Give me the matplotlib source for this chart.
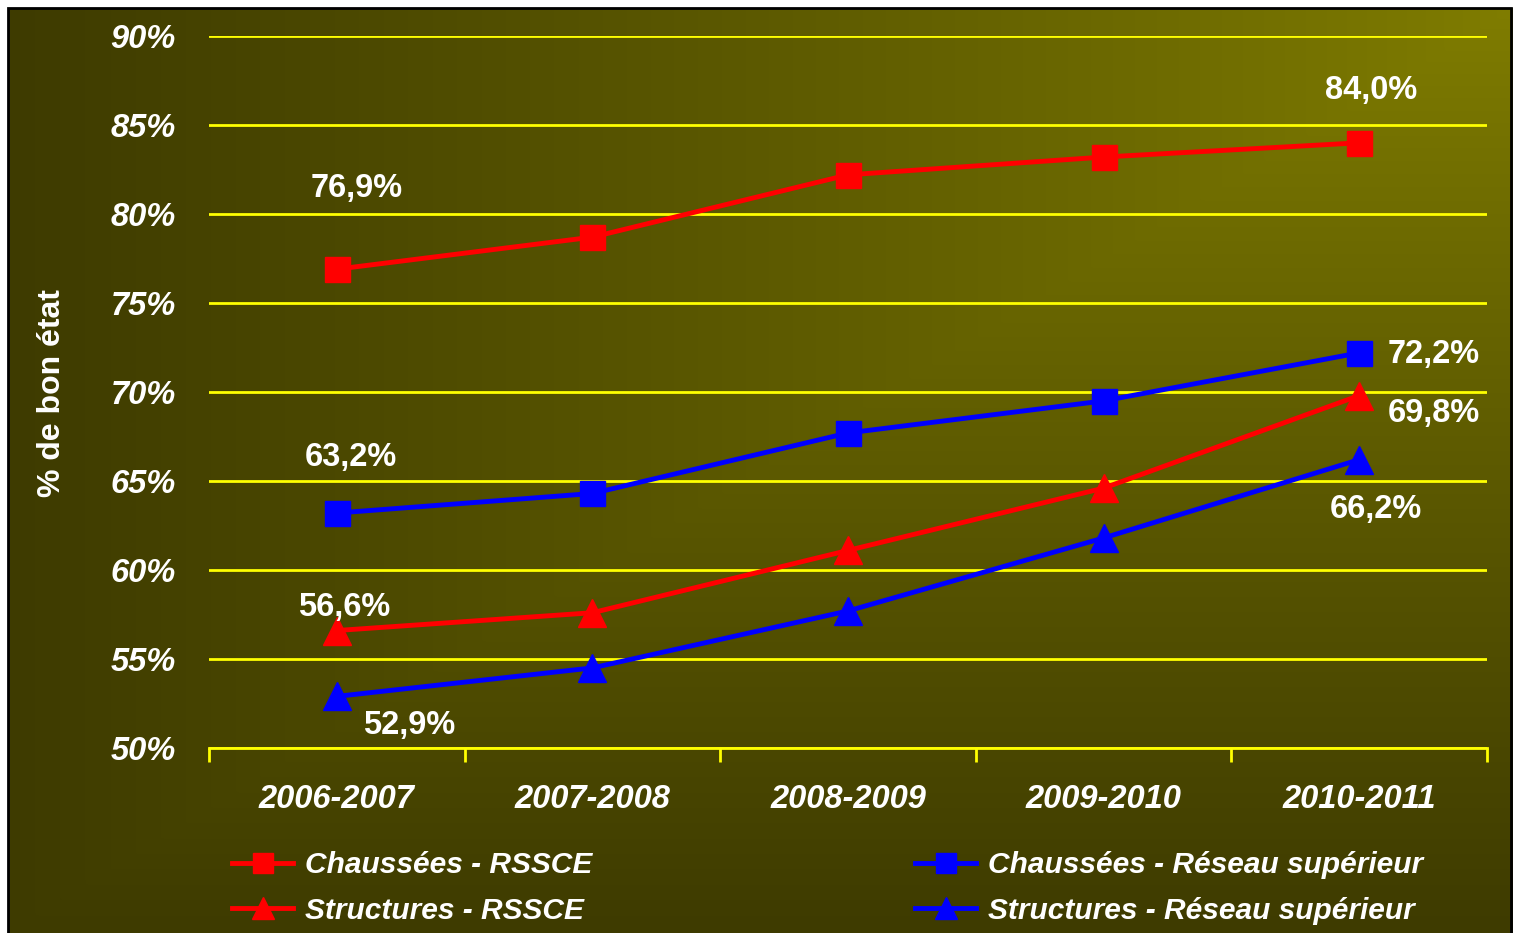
import numpy as np
import matplotlib
matplotlib.use("Agg")
import matplotlib.pyplot as plt
import matplotlib.patches as patches
from matplotlib.lines import Line2D

# ---------------- Data ----------------
saisons = ["2006-2007", "2007-2008", "2008-2009", "2009-2010", "2010-2011"]
chaussees_rssce = [76.9, 78.7, 82.2, 83.2, 84.0]
structures_rssce = [56.6, 57.6, 61.1, 64.6, 69.8]
chaussees_sup = [63.2, 64.3, 67.7, 69.5, 72.2]
structures_sup = [52.9, 54.5, 57.7, 61.8, 66.2]
y_ticks = [50, 55, 60, 65, 70, 75, 80, 85, 90]

W, H = 1513, 933
FONT = "Liberation Sans"

fig = plt.figure(figsize=(W / 100, H / 100), dpi=100)
fig.patch.set_facecolor("white")

# ---------------- Background gradient (bright from top-right corner) ----------------
x0, y0 = 8, 8
bg = fig.add_axes([x0 / W, 0, (W - x0) / W, (H - y0) / H])
bg.axis("off")
nx, ny = 400, 250
xs = np.linspace(0, 1, nx)
ys = np.linspace(0, 1, ny)
X, Y = np.meshgrid(xs, ys)
t = np.maximum(1 - X, Y) ** 0.9
bright = np.array([128, 125, 0]) / 255
dark = np.array([62, 59, 0]) / 255
img = bright[None, None, :] * (1 - t[..., None]) + dark[None, None, :] * t[..., None]
bg.imshow(img, aspect="auto", extent=[0, 1, 1, 0], interpolation="bilinear")
bg.set_xlim(0, 1)
bg.set_ylim(1, 0)
fig.patches.append(patches.Rectangle((x0 / W, -0.01), (W - x0) / W - 0.001, (H - y0) / H + 0.01,
                                     transform=fig.transFigure, fill=False,
                                     edgecolor="black", linewidth=2, zorder=5))

# ---------------- Main axes ----------------
ax = fig.add_axes([209 / W, 1 - 748 / H, (1487 - 209) / W, (748 - 36) / H])
ax.patch.set_visible(False)
ax.set_xlim(-0.5, 4.5)
ax.set_ylim(50, 90)

for s in ["top", "right", "left"]:
    ax.spines[s].set_visible(False)
ax.spines["bottom"].set_color("#FFFF00")
ax.spines["bottom"].set_linewidth(2)

ax.set_yticks(y_ticks)
ax.set_yticklabels([f"{v}%" for v in y_ticks])
ax.yaxis.grid(True, color="#FFFF00", linewidth=2)
ax.set_axisbelow(True)
ax.tick_params(axis="y", length=0, pad=24)

x = np.arange(len(saisons))
ax.set_xticks(x)
ax.set_xticklabels(saisons)
ax.set_xticks(np.arange(-0.5, len(saisons)), minor=True)
ax.tick_params(axis="x", which="major", length=0, pad=26)
ax.tick_params(axis="x", which="minor", length=10, width=2, color="#FFFF00", direction="out")

for lab in ax.get_yticklabels() + ax.get_xticklabels():
    lab.set_color("white")
    lab.set_fontfamily(FONT)
    lab.set_fontweight("bold")
    lab.set_fontstyle("italic")
    lab.set_fontsize(23.5)

series = [
    (chaussees_rssce, "red", "s", "Chaussées - RSSCE"),
    (structures_rssce, "red", "^", "Structures - RSSCE"),
    (chaussees_sup, "blue", "s", "Chaussées - Réseau supérieur"),
    (structures_sup, "blue", "^", "Structures - Réseau supérieur"),
]
for vals, col, mk, name in series:
    ax.plot(x, vals, color=col, linewidth=3.5, marker=mk,
            markersize=18 if mk == "s" else 20, zorder=3, clip_on=False)

# data labels on first and last points (offsets in pixels)
label_offsets = {
    ("Chaussées - RSSCE", 0): (20, 81), ("Chaussées - RSSCE", 4): (12, 52),
    ("Chaussées - Réseau supérieur", 0): (14, 56), ("Chaussées - Réseau supérieur", 4): (74, -2),
    ("Structures - RSSCE", 0): (7, 23), ("Structures - RSSCE", 4): (75, -18),
    ("Structures - Réseau supérieur", 0): (72, -29), ("Structures - Réseau supérieur", 4): (17, -50),
}
for vals, col, mk, name in series:
    for i in (0, len(vals) - 1):
        txt = f"{vals[i]:.1f}%".replace(".", ",")
        ax.annotate(txt, (x[i], vals[i]), xytext=label_offsets[(name, i)],
                    textcoords="offset pixels", ha="center", va="center",
                    color="white", fontsize=23.5, fontweight="bold",
                    fontfamily=FONT, zorder=4, annotation_clip=False)

fig.text(52 / W, 1 - 393 / H, "% de bon état", rotation=90, ha="center", va="center",
         color="white", fontsize=23, fontweight="bold", fontfamily=FONT)

# ---------------- Legend (two columns) ----------------
leg_font = {"family": FONT, "weight": "bold", "style": "italic", "size": 21.5}
cols = [series[:2], series[2:]]
anchors = [232, 915]
for grp, xa in zip(cols, anchors):
    handles = [Line2D([], [], color=c, linewidth=3.5, marker=m, markersize=14 if m == "s" else 16)
               for _, c, m, _ in grp]
    leg = fig.legend(handles, [g[3] for g in grp], loc="upper left",
                     bbox_to_anchor=(xa / W, 1 - 851 / H), frameon=False,
                     prop=leg_font, handlelength=2.05, handletextpad=0.4,
                     labelspacing=0.6, borderpad=0, borderaxespad=0)
    for t_ in leg.get_texts():
        t_.set_color("white")

fig.savefig("out.png", dpi=100, facecolor=fig.get_facecolor())
